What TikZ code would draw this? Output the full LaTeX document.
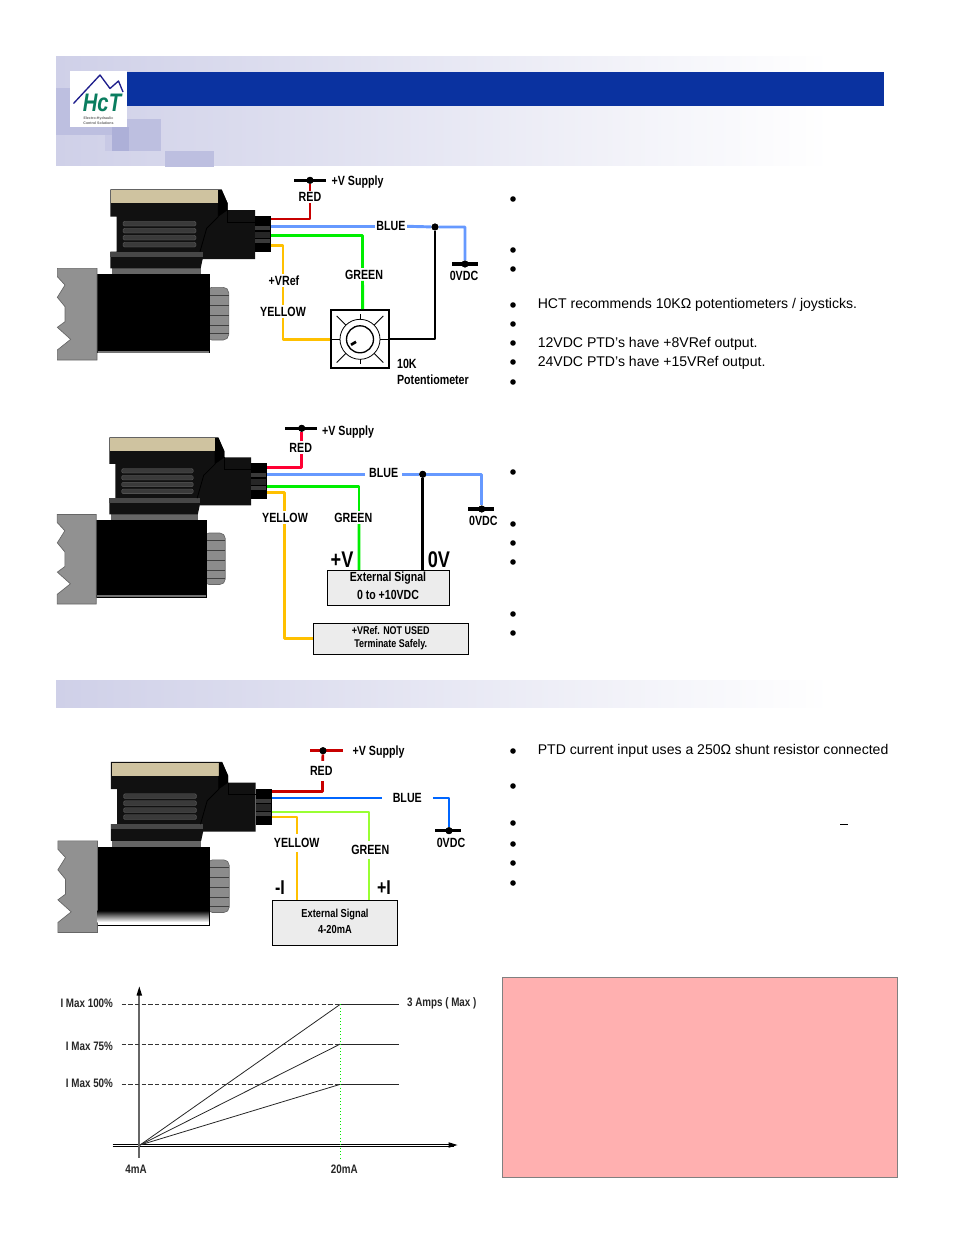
\documentclass[tikz,border=0pt]{standalone}
\usepackage{fontspec}
\setmainfont{Liberation Sans}
\newfontfamily\narrowfont[FakeStretch=0.8]{Liberation Sans}
\usetikzlibrary{arrows.meta,calc}
\definecolor{hdrblue}{HTML}{0A32A0}
\definecolor{hdrlite}{HTML}{CFD0E8}
\definecolor{wred}{HTML}{C80000}
\definecolor{wredb}{HTML}{FF0033}
\definecolor{wblue}{HTML}{6699FF}
\definecolor{wblueb}{HTML}{0066FF}
\definecolor{wgreen}{HTML}{00EE00}
\definecolor{wlime}{HTML}{99FF33}
\definecolor{wyellow}{HTML}{FFC000}
\definecolor{boxgray}{HTML}{ECECEC}
\definecolor{pinkbox}{HTML}{FFB0B0}
\definecolor{tanc}{HTML}{CFC3A0}
\definecolor{bodyc}{HTML}{111111}
\definecolor{slotc}{HTML}{3A3A3A}
\definecolor{capc}{HTML}{8C8C8C}
\definecolor{sqa}{RGB}{189,191,224}
\definecolor{sqb}{RGB}{200,201,229}
\definecolor{sqc}{RGB}{173,176,216}
\definecolor{logogreen}{RGB}{10,125,95}
\definecolor{logoblue}{RGB}{30,30,140}
\tikzset{
  lab/.style={font=\narrowfont\bfseries\fontsize{10}{11}\selectfont,inner sep=1pt,text=black},
  boxlab/.style={lab,font=\narrowfont\bfseries\fontsize{9.9}{11}\selectfont},
  smalllab/.style={lab,font=\narrowfont\bfseries\fontsize{8.4}{10}\selectfont},
  biglab/.style={lab,font=\narrowfont\bfseries\fontsize{17}{19}\selectfont},
  midlab/.style={lab,font=\narrowfont\bfseries\fontsize{15}{17}\selectfont},
  extlab/.style={lab,font=\narrowfont\bfseries\fontsize{8.7}{10}\selectfont},
  wire/.style={line width=2.2pt,line join=round},
  midwire/.style={line width=2pt,line join=round},
  thinwire/.style={line width=1.6pt,line join=round},
  tapwire/.style={line width=1.7pt,line join=round},
  rail/.style={line width=2.4pt},
  dot/.style={circle,fill=black,inner sep=0pt,minimum size=5.2pt},
  bulletdot/.style={circle,fill=black,inner sep=0pt,minimum size=4.2pt},
  bodytext/.style={anchor=west,inner sep=0pt,font=\fontsize{10.55}{13}\selectfont},
  sigbox/.style={draw=black,line width=0.8pt,fill=boxgray,inner sep=0pt},
  graphlab/.style={lab,font=\narrowfont\bfseries\fontsize{9.2}{11}\selectfont,text=black!85},
  dashline/.style={dash pattern=on 3.2pt off 1.8pt,line width=0.6pt,black!80},
  plotline/.style={line width=0.6pt,black!85},
  logotiny/.style={font=\bfseries\fontsize{2.7}{3}\selectfont,text=black!60,inner sep=0pt},
}
\newcommand{\solenoid}[4]{%
\begin{scope}[shift={(#1,#2)},xscale=#3,yscale=#4]
\begin{scope}[x=0.25pt,y=-0.25pt,shift={(150,150)}]
  \draw[fill=capc,draw=black!60,line width=0.5pt,rounded corners=4pt] (470,712) -- (536,712) -- (536,870) -- (470,870) -- cycle;
  \foreach \yy in {735,765,795,825,850} \draw[black!75,line width=0.5pt] (479,\yy) -- (536,\yy);
  \fill[black] (141,672) rectangle (479,910);
  \fill[black!55] (143,903) rectangle (477,908);
  \draw[fill=black!43,draw=black!60,line width=0.5pt] (22,655) -- (141,655) -- (141,930) -- (22,930) -- (22,900) -- (62,868) -- (22,832) -- (45,815) -- (45,770) -- (22,742) -- (45,705) -- (22,680) -- cycle;
  \fill[black!60] (185,655) rectangle (452,672);
  \fill[bodyc] (181,418) -- (515,418) -- (533,460) -- (533,480) -- (615,480) -- (615,627) -- (458,627) -- (452,655) -- (181,655) -- (181,605) -- (200,605) -- (200,500) -- (181,500) -- cycle;
  \fill[tanc] (183,420) -- (505,420) -- (505,460) -- (183,460) -- cycle;
  \fill[black] (505,420) -- (515,420) -- (533,460) -- (533,480) -- (505,500) -- cycle;
  \fill[black!72] (181,605) rectangle (458,620);
  \draw[black,line width=0.6pt] (505,460) -- (505,500) -- (470,535) -- (450,605);
  \draw[black,line width=0.6pt] (533,480) -- (533,517) -- (615,517);
  \foreach \yy in {514,535,556,577}
    \draw[fill=slotc,draw=black!60,line width=0.2pt,rounded corners=1pt] (219,\yy) rectangle (438,\yy+14);
  \fill[black] (615,498) rectangle (663,607);
  \fill[slotc] (615,528) rectangle (660,541);
  \fill[black!85] (615,545) rectangle (660,565);
  \fill[slotc] (615,568) rectangle (660,580);
\end{scope}
\end{scope}}
\begin{document}
\begin{tikzpicture}[x=0.75pt,y=-0.75pt]
\useasboundingbox (0,0) rectangle (954,1235);
% ---------- header
\shade[left color=hdrlite,right color=white,middle color=hdrlite!50,shading angle=90] (56,56) rectangle (830,165);
\fill[sqa] (56,88) rectangle (70,135);
\fill[sqa] (70,127) rectangle (112,135);
\fill[sqb] (105,135) rectangle (112,151);
\fill[sqa] (112,119) rectangle (161,151);
\fill[sqc] (112,127) rectangle (129,151);
\fill[sqa] (165,151) rectangle (214,167);
\fill[hdrblue] (127,72) rectangle (884,106);
\node[fill=white,minimum width=42.75pt,minimum height=42pt,inner sep=0pt] (logo) at (98.5,99) {};
\draw[line width=1pt,logoblue,line join=round] (73.5,103.5) -- (100,75) -- (110,88.5) -- (118.5,81) -- (123,92);
\node[font=\narrowfont\bfseries\itshape\fontsize{19}{20}\selectfont,text=logogreen,inner sep=0pt] (logohct) at (102,102.5) {HcT};
\node[logotiny] (logotxta) at (98.5,119) {Electro-Hydraulic};
\node[logotiny] (logotxtb) at (98.5,123) {Control Solutions};
% section bar
\shade[left color=hdrlite,right color=white,middle color=hdrlite!50,shading angle=90] (56,680) rectangle (830,707.7);
% ---------- solenoids
\solenoid{0}{0}{1}{1}
\solenoid{1.14}{252.3}{0.98}{0.977}
\solenoid{0.5}{572.5}{1}{1}
\shade[top color=black,bottom color=white] (97.5,910.5) rectangle (209.5,922);
\fill[white] (97.5,922) rectangle (209.5,925.5);
\draw[black,line width=0.6pt] (97.5,925.5) -- (209.5,925.5) -- (209.5,910);
% ---------- diagram 1
\coordinate (a1red) at (271,219);
\coordinate (a1blu) at (271,226.3);
\coordinate (a1grn) at (271,235.3);
\coordinate (a1yel) at (271,245.7);
\coordinate (a1barL) at (294,180.3);
\coordinate (a1barR) at (326,180.3);
\coordinate (a1gndL) at (452,264);
\coordinate (a1gndR) at (478,264);
\node[dot] (a1sup) at (310,180.3) {};
\node[dot] (a1gnd) at (465,264) {};
\node[dot] (a1jun) at (435,227) {};
\node[lab,anchor=west] (a1suptxt) at (330,181.7) {+V Supply};
\node[lab] (a1redtxt) at (310,197) {RED};
\node[lab] (a1blutxt) at (391,225.5) {BLUE};
\node[lab] (a1grntxt) at (364,274.5) {GREEN};
\node[lab] (a1vref) at (284,280.5) {+VRef};
\node[lab] (a1yeltxt) at (283,311.5) {YELLOW};
\node[lab] (a1gndtxt) at (464,275.5) {0VDC};
\node[lab,anchor=west] (a1ktxt) at (395.5,364) {10K};
\node[lab,anchor=west] (a1pottxt) at (395.5,380) {Potentiometer};
\node[draw=black,line width=1.6pt,fill=white,minimum width=43.5pt,minimum height=43.5pt,inner sep=0pt] (pot) at (360,339.3) {};
\draw[rail] (a1barL) -- (a1barR);
\draw[rail] (a1gndL) -- (a1gndR);
\draw[wire,wred] (a1red) -| (a1redtxt.south);
\draw[wire,wred] (a1redtxt.north) -- (a1sup);
\draw[wire,wblue] (a1blu) -- (a1blutxt.west |- a1blu);
\draw[wire,wblue] (a1blutxt.east |- a1blu) -- (a1jun) -| (a1gnd);
\draw[wire,wgreen] (a1grn) -| ($(a1grntxt.north)+(-1.5,0)$);
\draw[wire,wgreen] ($(a1grntxt.south)+(-1.5,0)$) -- ($(pot.north)+(2.7,0)$);
\draw[wire,wyellow] (a1yel) -| (a1vref.north -| a1yeltxt);
\draw[wire,wyellow] (a1vref.south -| a1yeltxt) -- (a1yeltxt.north);
\draw[wire,wyellow] (a1yeltxt.south) |- (pot.west);
\draw[tapwire,black] (a1jun) |- (pot.east);
\node[dot] at (a1sup) {};
\node[dot] at (a1gnd) {};
\node[dot] at (a1jun) {};
\begin{scope}[shift={(360,339.3)}]
  \draw[line width=0.6pt] (0,0) circle (20);
  \draw[line width=1pt] (0,0) circle (13.5);
  \foreach \a in {45,135,225,315} \draw[line width=0.6pt] (\a:20) -- (\a:33);
  \foreach \a in {0,180} \draw[line width=0.6pt] (\a:20) -- (\a:28);
  \foreach \a in {90,270} \draw[line width=0.6pt] (\a:20) -- (\a:25);
  \draw[line width=2pt] (-9,5.5) -- (-4,2.5);
\end{scope}
% ---------- diagram 2
\coordinate (b1red) at (267,467.3);
\coordinate (b1blu) at (267,474.3);
\coordinate (b1grn) at (267,486.3);
\coordinate (b1yel) at (267,492.7);
\coordinate (b1barL) at (285,428.3);
\coordinate (b1barR) at (317,428.3);
\coordinate (b1gndL) at (468,509);
\coordinate (b1gndR) at (494,509);
\node[dot] (b1sup) at (301.7,428.3) {};
\node[dot] (b1gnd) at (481.7,509) {};
\node[dot] (b1jun) at (422.7,474.3) {};
\node[lab,anchor=west] (b1suptxt) at (320.5,431.7) {+V Supply};
\node[lab] (b1redtxt) at (300.7,447.5) {RED};
\node[lab,inner xsep=3pt] (b1blutxt) at (383.7,472.8) {BLUE};
\node[lab] (b1grntxt) at (353.3,517.8) {GREEN};
\node[lab] (b1yeltxt) at (285,517.8) {YELLOW};
\node[lab] (b1gndtxt) at (483.3,520.7) {0VDC};
\node[biglab] (b1plus) at (342,559.5) {+V};
\node[biglab] (b1zero) at (439,559.5) {0V};
\node[sigbox,minimum width=91.5pt,minimum height=26.2pt] (b1box) at (388.3,587.8) {};
\node[boxlab] (b1ext) at (388,578) {External Signal};
\node[boxlab] (b1rng) at (388,594.5) {0 to +10VDC};
\node[sigbox,minimum width=116.2pt,minimum height=23.2pt] (b1vr) at (390.8,638.8) {};
\node[smalllab] (b1v1) at (390.7,630.5) {+VRef. NOT USED};
\node[smalllab] (b1v2) at (390.7,644.7) {Terminate Safely.};
\draw[rail] (b1barL) -- (b1barR);
\draw[rail] (b1gndL) -- (b1gndR);
\draw[wire,wredb] (b1red) -| ($(b1redtxt.south)+(1,0)$);
\draw[wire,wredb] ($(b1redtxt.north)+(1,0)$) -- (b1sup);
\draw[wire,wblue] (b1blu) -- (b1blutxt.west |- b1blu);
\draw[wire,wblue] (b1blutxt.east |- b1blu) -- (b1jun) -| (b1gnd);
\draw[wire,wgreen] (b1grn) -| ($(b1grntxt.north)+(5.7,0)$);
\draw[wire,wgreen] ($(b1grntxt.south)+(5.7,0)$) -- ($(b1box.north)+(-29.3,0)$);
\draw[wire,wyellow] (b1yel) -| ($(b1yeltxt.north)+(-0.7,0)$);
\draw[wire,wyellow] ($(b1yeltxt.south)+(-0.7,0)$) |- (b1vr.west);
\draw[wire,black] (b1jun) -- (b1jun |- b1box.north);
\node[dot] at (b1sup) {};
\node[dot] at (b1gnd) {};
\node[dot] at (b1jun) {};
% ---------- diagram 3
\coordinate (c1red) at (271.7,791.3);
\coordinate (c1blu) at (271.7,798);
\coordinate (c1grn) at (271.7,811.7);
\coordinate (c1yel) at (271.7,817);
\coordinate (c1barL) at (310,750.7);
\coordinate (c1barR) at (342.7,750.7);
\coordinate (c1gndL) at (435,830.7);
\coordinate (c1gndR) at (461,830.7);
\node[dot] (c1sup) at (323,750.7) {};
\node[dot] (c1gnd) at (449,830.7) {};
\node[lab,anchor=west] (c1suptxt) at (351,751.7) {+V Supply};
\node[lab,inner sep=4pt] (c1redtxt) at (321.3,771) {RED};
\node[lab,inner xsep=8pt] (c1blutxt) at (407.3,797.8) {BLUE};
\node[lab,inner sep=3pt] (c1grntxt) at (370.3,850) {GREEN};
\node[lab,inner sep=3pt] (c1yeltxt) at (296.7,843) {YELLOW};
\node[lab] (c1gndtxt) at (451,843) {0VDC};
\node[midlab] (c1minus) at (280,888) {-I};
\node[midlab] (c1plus) at (384,888) {+I};
\node[sigbox,minimum width=94pt,minimum height=33.7pt] (c1box) at (335,922.8) {};
\node[extlab] (c1ext) at (335,914.5) {External Signal};
\node[extlab] (c1rng) at (335,929) {4-20mA};
\draw[rail,wred] (c1barL) -- (c1barR);
\draw[rail,black] (c1gndL) -- (c1gndR);
\draw[midwire,wred] (c1red) -| ($(c1redtxt.south)+(1.4,0)$);
\draw[midwire,wred] ($(c1redtxt.north)+(1.4,0)$) -- (c1sup);
\draw[midwire,wblueb] (c1blu) -- (c1blutxt.west |- c1blu);
\draw[midwire,wblueb] (c1blutxt.east |- c1blu) -| (c1gnd);
\draw[thinwire,wlime] (c1grn) -| ($(c1grntxt.north)+(-1.6,0)$);
\draw[thinwire,wlime] ($(c1grntxt.south)+(-1.6,0)$) -- ($(c1box.north)+(33.7,0)$);
\draw[thinwire,wyellow] (c1yel) -| (c1yeltxt.north);
\draw[thinwire,wyellow] (c1yeltxt.south) -- (c1yeltxt.south |- c1box.north);
\node[dot] at (c1sup) {};
\node[dot] at (c1gnd) {};
% ---------- graph
\coordinate (gorig) at (140,1145);
\coordinate (gxL) at (112.7,1145);
\coordinate (gxR) at (457.5,1145);
\coordinate (gyB) at (139.3,1157.7);
\coordinate (gyT) at (139.3,986.5);
\coordinate (g100L) at (121.7,1004.3);
\coordinate (g75L) at (121.7,1044);
\coordinate (g50L) at (121.7,1084.3);
\coordinate (g100) at (340.3,1004.3);
\coordinate (g75) at (340.3,1044);
\coordinate (g50) at (340.3,1084.3);
\coordinate (g100R) at (399,1004.3);
\coordinate (g75R) at (399,1044);
\coordinate (g50R) at (399,1084.3);
\coordinate (gvB) at (340.3,1157.7);
\draw[line width=0.5pt,black] ($(gxL)+(0,-0.9)$) -- ($(gxR)+(-4,-0.9)$);
\draw[line width=0.5pt,black] ($(gxL)+(0,0.9)$) -- ($(gxR)+(-4,0.9)$);
\fill[black] (gxR) -- ++(-9,-2.8) -- ++(0,5.6) -- cycle;
\draw[line width=1.5pt,black!60] (gyB) -- ($(gyT)+(0,4)$);
\fill[black] (gyT) -- ++(2.8,9) -- ++(-5.6,0) -- cycle;
\draw[dashline] (g100L) -- (g100);
\draw[dashline] (g75L) -- (g75);
\draw[dashline] (g50L) -- (g50);
\draw[plotline] (g100) -- (g100R);
\draw[plotline] (g75) -- (g75R);
\draw[plotline] (g50) -- (g50R);
\draw[plotline] (gorig) -- (g100);
\draw[plotline] (gorig) -- (g75);
\draw[plotline] (gorig) -- (g50);
\draw[wgreen,line width=0.5pt,dotted] (g100) -- (gvB);
\node[graphlab,anchor=east] (gl100) at (114.5,1003.3) {I Max 100\%};
\node[graphlab,anchor=east] (gl75) at (114.5,1045.8) {I Max 75\%};
\node[graphlab,anchor=east] (gl50) at (114.5,1083.3) {I Max 50\%};
\node[graphlab,anchor=west] (glamp) at (405.5,1003.3) {3 Amps ( Max )};
\node[graphlab] (gl4) at (136,1169) {4mA};
\node[graphlab] (gl20) at (344.3,1169) {20mA};
% ---------- pink box
\node[draw=black!50,line width=0.9pt,fill=pinkbox,minimum width=296pt,minimum height=149.5pt,inner sep=0pt] (pink) at (700,1077.5) {};
% ---------- bullets
\foreach \yy in {199,250,269,305,324,343,362,382,472,524,543,562,614,633,751,786,823,844,863,883}
  \node[bulletdot] at (513,\yy) {};
\node[bodytext] (t1) at (537.5,304.7) {HCT recommends 10KΩ potentiometers / joysticks.};
\node[bodytext] (t2) at (537.5,343.5) {12VDC PTD’s have +8VRef output.};
\node[bodytext] (t3) at (537.5,362.5) {24VDC PTD’s have +15VRef output.};
\node[bodytext] (t4) at (537.5,750.8) {PTD current input uses a 250Ω shunt resistor connected};
\draw[line width=0.6pt,black] (840,824.3) -- (847.5,824.3);
\end{tikzpicture}
\end{document}
